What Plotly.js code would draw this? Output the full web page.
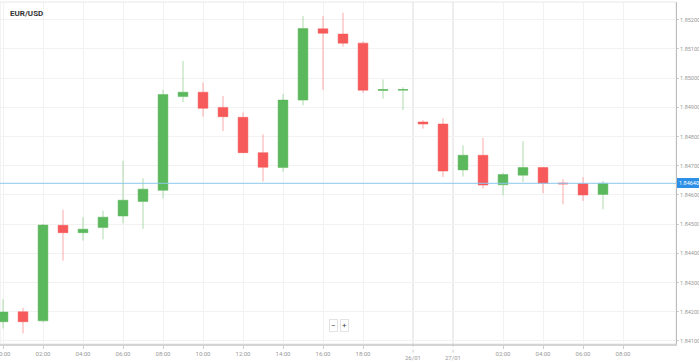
<!DOCTYPE html>
<html>
<head>
<meta charset="utf-8">
<script src="https://cdn.plot.ly/plotly-3.0.1.min.js"></script>
<style>html,body{margin:0;padding:0;background:#fff;}#chart{width:699px;height:362px;}</style>
</head>
<body>
<div id="chart"></div>
<script>
// Hourly candles: 24/01 00:00-20:00, then 26/01 22:00 - 27/01 07:00
const times = ["00:00","01:00","02:00","03:00","04:00","05:00","06:00","07:00","08:00","09:00",
  "10:00","11:00","12:00","13:00","14:00","15:00","16:00","17:00","18:00","19:00","20:00",
  "22:00","23:00","00:00","01:00","02:00","03:00","04:00","05:00","06:00","07:00"];
const openP  = [1.84166,1.84200,1.84169,1.84496,1.84471,1.84489,1.84528,1.84578,1.84616,1.84937,
  1.84952,1.84900,1.84866,1.84745,1.84694,1.84925,1.85169,1.85151,1.85120,1.84958,1.84959,
  1.84850,1.84843,1.84686,1.84736,1.84635,1.84668,1.84694,1.84641,1.84639,1.84602];
const highP  = [1.84243,1.84214,1.84501,1.84549,1.84524,1.84546,1.84717,1.84657,1.84960,1.85059,
  1.84985,1.84939,1.84883,1.84808,1.84946,1.85213,1.85213,1.85224,1.85126,1.84996,1.84969,
  1.84857,1.84863,1.84770,1.84796,1.84676,1.84784,1.84696,1.84654,1.84661,1.84648];
const lowP   = [1.84143,1.84126,1.84164,1.84375,1.84444,1.84448,1.84503,1.84484,1.84589,1.84918,
  1.84868,1.84819,1.84744,1.84646,1.84680,1.84907,1.84960,1.85108,1.84950,1.84930,1.84891,
  1.84827,1.84661,1.84663,1.84622,1.84599,1.84645,1.84606,1.84568,1.84580,1.84551];
const closeP = [1.84199,1.84166,1.84497,1.84471,1.84483,1.84524,1.84582,1.84620,1.84944,1.84952,
  1.84897,1.84868,1.84745,1.84695,1.84925,1.85170,1.85154,1.85120,1.84959,1.84961,1.84961,
  1.84843,1.84682,1.84736,1.84634,1.84670,1.84694,1.84640,1.84638,1.84600,1.84640];

const tickPos  = [0,2,4,6,8,10,12,14,16,18,25,27,29,31];
const tickText = ["00:00","02:00","04:00","06:00","08:00","10:00","12:00","14:00","16:00","18:00","02:00","04:00","06:00","08:00"];
const dateLabels = ["26/01","27/01"];
const datePos    = [20.5, 22.5];

const xIdx = times.map((_, i) => i);
const lastClose = closeP[closeP.length - 1];

const green = "#5cb85c", red = "#f75a5a";
const trace = {
  type: "candlestick",
  x: xIdx, open: openP, high: highP, low: lowP, close: closeP,
  increasing: {line: {color: "rgba(92,184,92,0.5)", width: 1}, fillcolor: green},
  decreasing: {line: {color: "rgba(247,90,90,0.5)", width: 1}, fillcolor: red},
  whiskerwidth: 0,
  hoverinfo: "skip"
};

const shapes = [
  {type:"rect", xref:"paper", yref:"paper", x0:0, x1:1, y0:0, y1:1, line:{color:"#e8e8e8", width:1}, layer:"below"},
  {type:"line", xref:"paper", yref:"y", x0:0, x1:1, y0:lastClose, y1:lastClose, line:{color:"#8ec8ee", width:1}}
];
const annotations = [];
datePos.forEach((p, i) => {
  shapes.push({type:"line", xref:"x", yref:"paper", x0:p, x1:p, y0:0, y1:1, line:{color:"#dcdcdc", width:1}, layer:"below"});
  shapes.push({type:"line", xref:"x", yref:"paper", x0:p, x1:p, y0:-0.025, y1:0, line:{color:"#c8c8c8", width:1, dash:"dot"}});
  annotations.push({xref:"x", yref:"paper", x:p, y:-13/342, xanchor:"center", yanchor:"middle", showarrow:false,
    text:dateLabels[i], font:{family:"Roboto", size:6, color:"#999"}});
});
annotations.push({xref:"paper", yref:"y", x:1, xanchor:"left", yanchor:"middle", xshift:1, y:lastClose, showarrow:false,
  text:lastClose.toFixed(5), bgcolor:"#2d8fe6", bordercolor:"#2d8fe6", borderpad:1,
  font:{family:"Roboto", size:5.5, color:"#fff"}});
annotations.push({xref:"paper", yref:"paper", x:333/676, y:19/342, xanchor:"center", yanchor:"middle", showarrow:false, text:"−",
  bgcolor:"#fff", bordercolor:"#e3e3e3", borderwidth:1, borderpad:1, font:{family:"Roboto", size:8, color:"#444"}});
annotations.push({xref:"paper", yref:"paper", x:344/676, y:19/342, xanchor:"center", yanchor:"middle", showarrow:false, text:"+",
  bgcolor:"#fff", bordercolor:"#e3e3e3", borderwidth:1, borderpad:1, font:{family:"Roboto", size:8, color:"#444"}});

const layout = {
  width: 699, height: 362,
  margin: {l:0, r:23, t:2, b:18, pad:0},
  paper_bgcolor: "#fff", plot_bgcolor: "#fff",
  showlegend: false,
  title: {text:"<b>EUR/USD</b>", xref:"container", yref:"container", x:10/699, xanchor:"left",
    y:1-13/362, yanchor:"middle", font:{family:"Roboto", size:8, color:"#333"}},
  xaxis: {
    range: [-0.15, 33.65], rangeslider: {visible:false},
    tickmode: "array", tickvals: tickPos, ticktext: tickText,
    ticklabeloverflow: "allow",
    showgrid: true, gridcolor: "#f2f2f2", gridwidth: 1,
    showline: true, linecolor: "#d4d4d4", linewidth: 2,
    ticks: "outside", ticklen: 3, tickcolor: "#ccc",
    tickfont: {family:"Roboto", size:6, color:"#999"},
    zeroline: false, fixedrange: true
  },
  yaxis: {
    side: "right", range: [1.840897, 1.852609],
    tick0: 1.841, dtick: 0.001, tickformat: ".5f",
    ticklabeloverflow: "allow",
    showgrid: true, gridcolor: "#f2f2f2", gridwidth: 1,
    showline: true, linecolor: "#bdbdbd", linewidth: 1,
    ticks: "outside", ticklen: 2, tickcolor: "#ccc",
    tickfont: {family:"Roboto", size:5.5, color:"#999"},
    zeroline: false, fixedrange: true
  },
  shapes: shapes,
  annotations: annotations
};

Plotly.newPlot("chart", [trace], layout, {staticPlot:true, displayModeBar:false});
</script>
</body>
</html>
